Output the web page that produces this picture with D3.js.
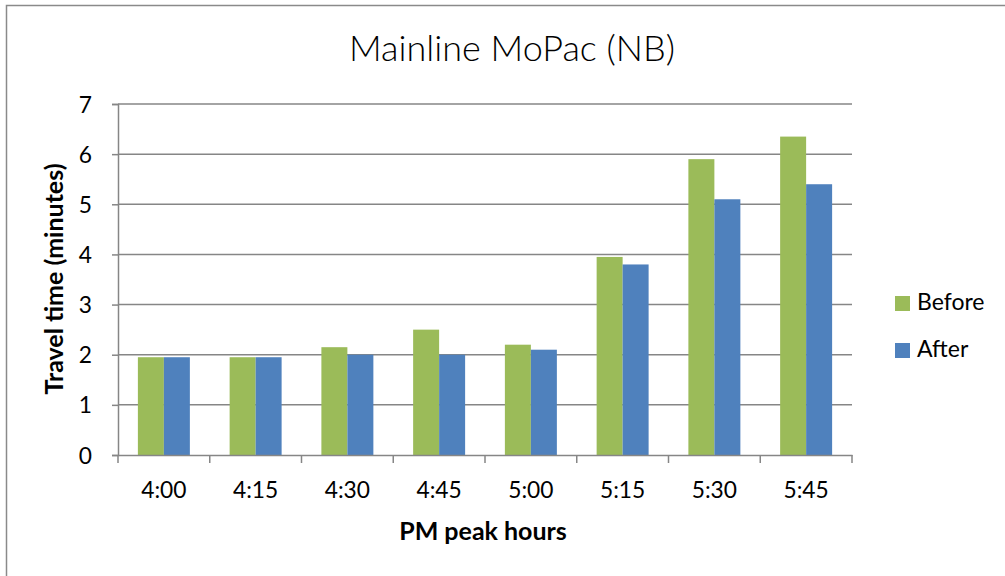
<!DOCTYPE html>
<html>
<head>
<meta charset="utf-8">
<script src="https://cdn.jsdelivr.net/npm/d3@7"></script>
<style>
  html, body { margin: 0; padding: 0; background: #fff; }
  svg { display: block; }
  text { font-family: Lato, "Open Sans", "Liberation Sans", Arial, sans-serif; fill: #000; }
</style>
</head>
<body>
<svg id="chart" width="1005" height="576"></svg>
<script>
const categories = ["4:00", "4:15", "4:30", "4:45", "5:00", "5:15", "5:30", "5:45"];
const seriesNames = ["Before", "After"];
const beforeValues = [1.95, 1.95, 2.15, 2.5, 2.2, 3.95, 5.9, 6.35];
const afterValues = [1.95, 1.95, 2.0, 2.0, 2.1, 3.8, 5.1, 5.4];
const yTicks = [0, 1, 2, 3, 4, 5, 6, 7];
const colors = { Before: "#9BBB59", After: "#4F81BD" };

const svg = d3.select("#chart");
const W = 1005, H = 576;
const m = { left: 118, right: 153, top: 104, bottom: 121 };

// outer chart border
svg.append("rect").attr("x", 6.5).attr("y", 5.5).attr("width", W + 10).attr("height", H + 10)
  .attr("fill", "none").attr("stroke", "#8a8a8a").attr("stroke-width", 1.5);

const x0 = d3.scaleBand().domain(categories).range([m.left, W - m.right]).paddingInner(0).paddingOuter(0);
const x1 = d3.scaleBand().domain(seriesNames).range([0, x0.bandwidth()]).paddingInner(0).paddingOuter(0.765);
const y = d3.scaleLinear().domain([0, 7]).range([H - m.bottom, m.top]);

function label(g, txt, x, yy, size, anchor, weight, sx) {
  return g.append("text")
    .attr("transform", `translate(${x},${yy}) scale(${sx || 1},1)`)
    .attr("text-anchor", anchor)
    .attr("font-size", size)
    .attr("font-weight", weight || "normal")
    .text(txt);
}

// y axis + tick marks
const yAxis = d3.axisLeft(y).tickValues(yTicks).tickSize(6).tickFormat("");
const yg = svg.append("g").attr("transform", `translate(${m.left},0)`).call(yAxis);
yg.select(".domain").attr("stroke", "#868686").attr("stroke-width", 1.5);
yg.selectAll(".tick line").attr("stroke", "#868686").attr("stroke-width", 1.5);

// gridlines
svg.append("g").selectAll("line").data(yTicks.filter(d => d > 0)).join("line")
  .attr("x1", m.left).attr("x2", W - m.right)
  .attr("y1", d => y(d)).attr("y2", d => y(d))
  .attr("stroke", "#868686").attr("stroke-width", 1.5);

// y tick labels
const ylab = svg.append("g");
yTicks.forEach(t => label(ylab, String(t), 92, y(t) + 8.5, 24, "end", "normal", 0.95));

// bars
const data = categories.map((c, i) => ({ cat: c, Before: beforeValues[i], After: afterValues[i] }));
const groups = svg.append("g").selectAll("g").data(data).join("g")
  .attr("transform", d => `translate(${x0(d.cat)},0)`);
groups.selectAll("rect").data(d => seriesNames.map(s => ({ s, v: d[s] }))).join("rect")
  .attr("x", d => x1(d.s))
  .attr("width", x1.bandwidth())
  .attr("y", d => y(d.v))
  .attr("height", d => y(0) - y(d.v))
  .attr("fill", d => colors[d.s]);

// x axis
const xAxis = d3.axisBottom(x0).tickSize(0).tickFormat("");
const xg = svg.append("g").attr("transform", `translate(0,${y(0)})`).call(xAxis);
xg.select(".domain").attr("stroke", "#868686").attr("stroke-width", 1.5);
const bounds = categories.map(c => x0(c)).concat([W - m.right]);
svg.append("g").selectAll("line").data(bounds).join("line")
  .attr("x1", d => d).attr("x2", d => d)
  .attr("y1", y(0)).attr("y2", y(0) + 8)
  .attr("stroke", "#868686").attr("stroke-width", 1.5);

const xlab = svg.append("g");
categories.forEach(c => label(xlab, c, x0(c) + x0.bandwidth() / 2, 498, 24, "middle", "normal", 0.95));

// titles
label(svg, "Mainline MoPac (NB)", 512, 61, 36, "middle", 300, 1);
label(svg, "PM peak hours", 483, 540, 25, "middle", "bold", 1);
svg.append("text")
  .attr("transform", `translate(63,279) rotate(-90)`)
  .attr("text-anchor", "middle").attr("font-size", 25).attr("font-weight", "bold")
  .text("Travel time (minutes)");

// legend
const leg = svg.append("g");
seriesNames.forEach((s, i) => {
  leg.append("rect").attr("x", 895).attr("y", 296 + i * 47).attr("width", 15).attr("height", 15).attr("fill", colors[s]);
  label(leg, s, 917, 310 + i * 47, 23, "start", "normal", 1);
});
</script>
</body>
</html>
